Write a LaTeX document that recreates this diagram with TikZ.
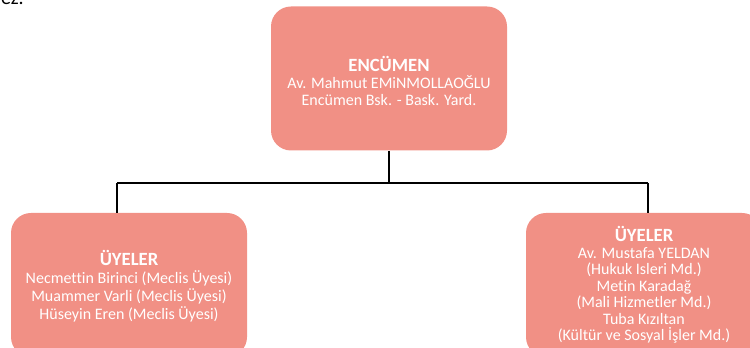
\documentclass[tikz,border=0pt]{standalone}
\usepackage{fontspec}
\setmainfont{Carlito}[Ligatures=NoCommon]
\definecolor{boxfill}{HTML}{F19085}
\newcommand{\boxtitle}[1]{{\fontsize{14}{14}\selectfont\bfseries #1}}
\begin{document}
\begin{tikzpicture}[x=0.75pt,y=-0.75pt,
  orgbox/.style={fill=boxfill,draw=none,rounded corners=15pt,minimum width=177pt,minimum height=108pt,text=white,align=center,inner sep=0pt,font=\fontsize{12}{12.4}\selectfont},
  link/.style={draw=black,line width=1.5pt}]
\useasboundingbox (0,0) rectangle (750,348);
\clip (0,0) rectangle (750,348);
\node[anchor=base east,font=\fontsize{15}{18}\selectfont,text=black,inner sep=0pt] (frag) at (24,4.5) {ez.};
\node[orgbox] (top) at (389,78.5) {};
\node[text=white,align=center,inner sep=0pt,font=\fontsize{12}{12.4}\selectfont] (toptext) at (389,81) {\boxtitle{ENCÜMEN}\\Av. Mahmut EMiNMOLLAOĞLU\\Encümen Bsk. - Bask. Yard.};
\node[orgbox] (left) at (129,285) {};
\node[text=white,align=center,inner sep=0pt,font=\fontsize{12}{13.5}\selectfont] (lefttext) at (129,286) {\boxtitle{ÜYELER}\\Necmettin Birinci (Meclis Üyesi)\\Muammer Varli (Meclis Üyesi)\\Hüseyin Eren (Meclis Üyesi)};
\node[orgbox] (right) at (644,285) {};
\node[text=white,align=center,inner sep=0pt,font=\fontsize{12}{12.4}\selectfont] (righttext) at (644,285) {\boxtitle{ÜYELER}\\Av. Mustafa YELDAN\\(Hukuk Isleri Md.)\\Metin Karadağ\\(Mali Hizmetler Md.)\\Tuba Kızıltan\\(Kültür ve Sosyal İşler Md.)};
\coordinate (hl) at (117,183);
\coordinate (hr) at (648,183);
\draw[link] (top.south) -- (389,183);
\draw[link] (hl) -- (hr);
\draw[link] (hl) -- (117,213);
\draw[link] (hr) -- (648,213);
\end{tikzpicture}
\end{document}
